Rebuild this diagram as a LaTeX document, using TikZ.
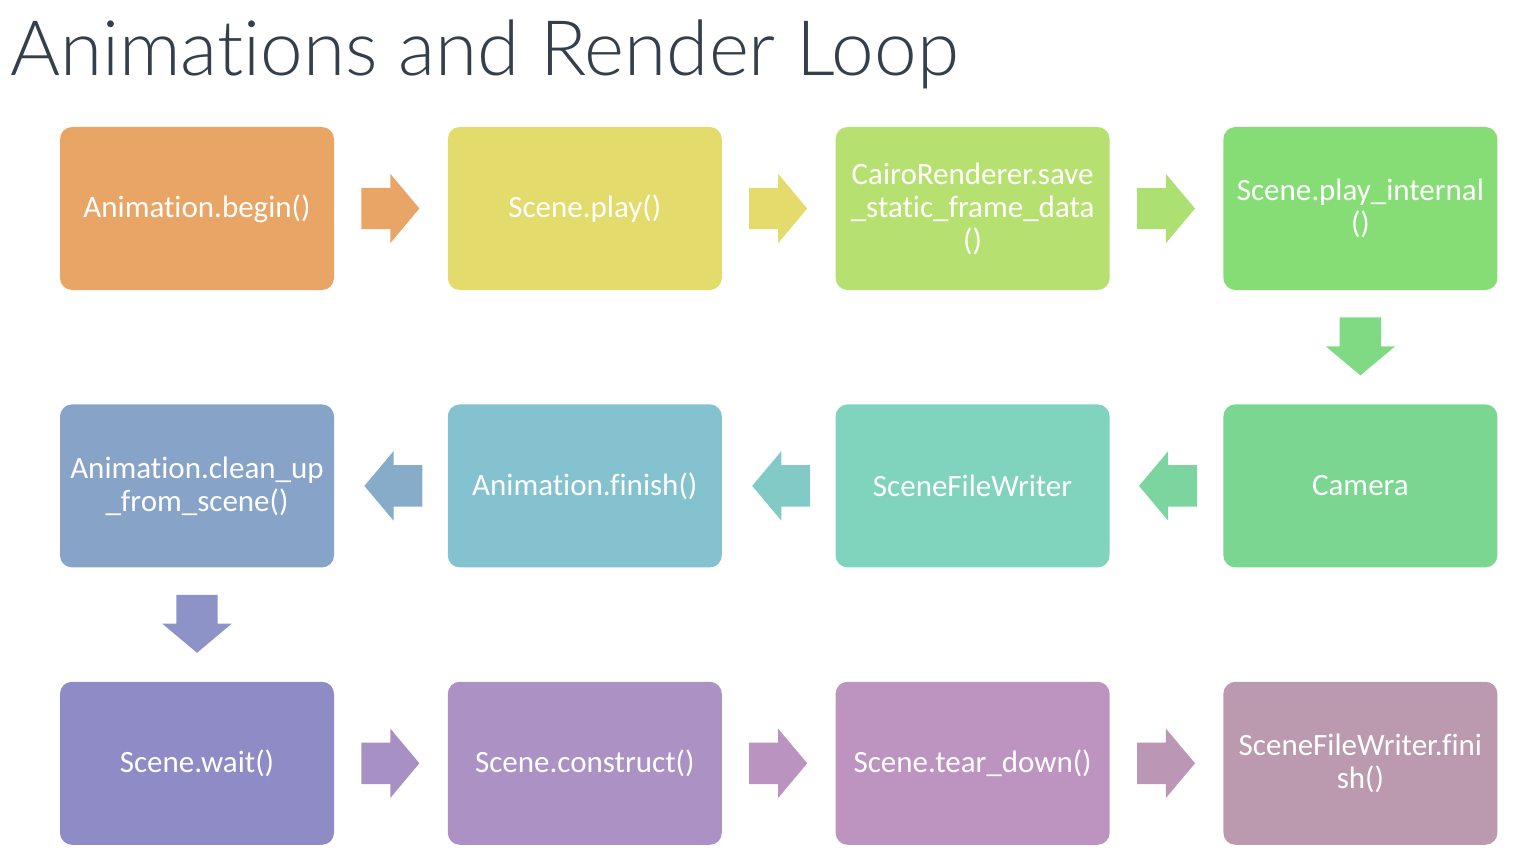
\documentclass[tikz,border=0pt]{standalone}
\usepackage{fontspec}
\setmainfont{Carlito}[Ligatures={NoCommon}]
\newfontfamily\titlefont{Lato}[UprightFont=* Light, Ligatures={NoCommon}]
\usetikzlibrary{shapes,arrows,positioning,calc}

\definecolor{titlegray}{HTML}{333F4B}
\definecolor{cbegin}{HTML}{E9A566}
\definecolor{cplay}{HTML}{E3DB6B}
\definecolor{ccairo}{HTML}{B6E171}
\definecolor{cinternal}{HTML}{87DD75}
\definecolor{ccamera}{HTML}{7AD691}
\definecolor{cwriter}{HTML}{80D3BD}
\definecolor{cfinish}{HTML}{83C2CE}
\definecolor{ccleanup}{HTML}{87A3C8}
\definecolor{cwait}{HTML}{8F8BC6}
\definecolor{cconstruct}{HTML}{AC91C4}
\definecolor{cteardown}{HTML}{BD94C0}
\definecolor{cwriterfin}{HTML}{BB99AE}

\begin{document}
\begin{tikzpicture}[
    x=1pt, y=-1pt,
    node distance=114pt and 113.4pt,
    % Node styles
    stage/.style={rectangle, rounded corners=12pt, draw=none, text=white,
                  minimum width=274pt, minimum height=163pt, align=center,
                  font=\fontsize{31}{33}\selectfont},
    flow/.style={single arrow, draw=none, minimum height=58pt, inner xsep=0pt,
                 inner ysep=20.5pt, single arrow head extend=14pt,
                 single arrow tip angle=100, anchor=tail},
    flowleft/.style={flow, shape border rotate=180},
    flowdown/.style={flow, shape border rotate=270, inner xsep=20.5pt,
                     inner ysep=0pt}
]
\useasboundingbox (0,0) rectangle (1524,864);

% Title
\node[anchor=base west, inner sep=0pt, text=titlegray,
      font=\titlefont\fontsize{76.5}{80}\selectfont] (title) at (10,76)
    {Animations and Render Loop};

% 1. Top row
\node[stage, fill=cbegin] (begin) at (197,208.5) {Animation.begin()};
\node[stage, fill=cplay, right=of begin] (play) {Scene.play()};
\node[stage, fill=ccairo, right=of play] (cairo) {CairoRenderer.save\\\_static\_frame\_data\\()};
\node[stage, fill=cinternal, right=of cairo] (internal) {Scene.play\_internal\\()};

% 2. Middle row (right to left)
\node[stage, fill=ccamera, below=of internal] (camera) {Camera};
\node[stage, fill=cwriter, left=of camera] (writer) {SceneFileWriter};
\node[stage, fill=cfinish, left=of writer] (finish) {Animation.finish()};
\node[stage, fill=ccleanup, left=of finish] (cleanup) {Animation.clean\_up\\\_from\_scene()};

% 3. Bottom row
\node[stage, fill=cwait, below=of cleanup] (wait) {Scene.wait()};
\node[stage, fill=cconstruct, right=of wait] (construct) {Scene.construct()};
\node[stage, fill=cteardown, right=of construct] (teardown) {Scene.tear\_down()};
\node[stage, fill=cwriterfin, right=of teardown] (writerfin) {SceneFileWriter.fini\\sh()};

% Block arrows between the stages
\node[flow, fill=cbegin] (a1) at ($(begin.east)+(27,0)$) {};
\node[flow, fill=cplay] (a2) at ($(play.east)+(27,0)$) {};
\node[flow, fill=ccairo!80!cinternal] (a3) at ($(cairo.east)+(27,0)$) {};
\node[flowdown, fill=cinternal!50!ccamera] (a4) at ($(internal.south)+(0,27)$) {};
\node[flowleft, fill=ccamera!70!cwriter] (a5) at ($(camera.west)+(-26,0)$) {};
\node[flowleft, fill=cwriter!50!cfinish] (a6) at ($(writer.west)+(-25,0)$) {};
\node[flowleft, fill=cfinish!30!ccleanup] (a7) at ($(finish.west)+(-25,0)$) {};
\node[flowdown, fill=ccleanup!30!cwait] (a8) at ($(cleanup.south)+(0,27)$) {};
\node[flow, fill=cwait!20!cconstruct] (a9) at ($(wait.east)+(27,0)$) {};
\node[flow, fill=cconstruct!20!cteardown] (a10) at ($(construct.east)+(27,0)$) {};
\node[flow, fill=cteardown!40!cwriterfin] (a11) at ($(teardown.east)+(27,0)$) {};

\end{tikzpicture}
\end{document}
